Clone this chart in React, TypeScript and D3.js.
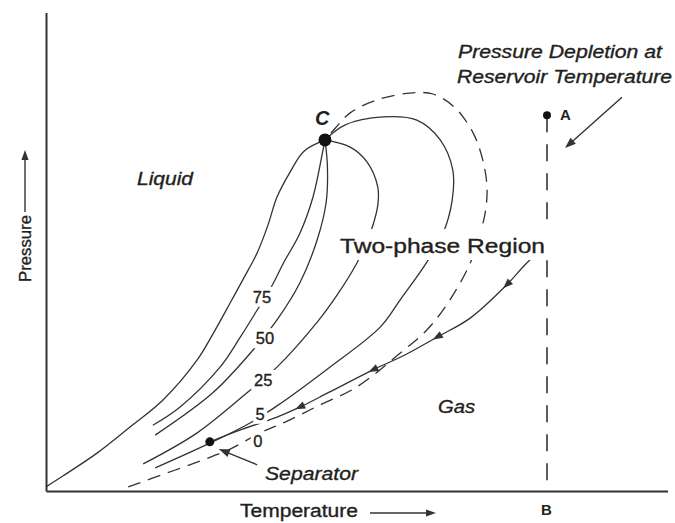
import React from 'react';
import * as d3 from 'd3';

type Pt = [number, number];

// Data space: Temperature 0..100 (relative), Pressure 0..100 (relative)
const criticalPoint: Pt = [46.5, 77.8];

const bubbleLine: Pt[] = [
  [0, 0.7], [2.8, 3.1], [8.5, 8.2], [14, 14], [19.5, 20], [25.2, 28.9], [28, 35.1],
  [30.5, 41.1], [32.8, 46.7], [35.2, 52.7], [37, 58.9], [38.5, 65.1], [40.7, 70.7], [43, 75.3],
];
const quality75: Pt[] = [
  [17.8, 14.4], [22.3, 18.4], [29, 27.3], [32.3, 33.8], [35.2, 40], [37.7, 45.5],
  [39.6, 50.5], [42.3, 57], [44.5, 65.1], [46, 74.4],
];
const quality50: Pt[] = [
  [18.2, 12.2], [27.8, 21.6], [34.5, 31.1], [38.5, 37.8], [42.3, 46], [45.2, 55.6],
  [46.7, 64], [46.9, 72],
];
const quality25: Pt[] = [
  [16.2, 5.8], [25.2, 12.7], [33.5, 21.6], [38.5, 27.3], [45.2, 37.3], [48.5, 43.3],
  [51.8, 50.4], [53.2, 54.4], [54.5, 58.9], [55.3, 63.3], [55.3, 67.3], [53.5, 72.9], [50.7, 76.2],
];
const quality5: Pt[] = [
  [18.2, 4.9], [27.3, 10.4], [34, 14.9], [38.5, 18.7], [47.3, 27.3], [55.7, 36.2], [59, 42.2],
  [63.5, 50.7], [66.2, 57.1], [67.7, 64.4], [67.8, 71.1], [65.7, 77.8], [61.8, 82.2],
  [56.2, 82.9], [49.8, 81.1],
];
const dewLine: Pt[] = [
  [13.7, 0.7], [20.2, 3.8], [26.2, 6.7], [30.7, 9.1], [35.7, 12.7], [40.2, 15.3], [45.2, 18.6],
  [51.8, 22.9], [59, 30.4], [63.5, 35.6], [67.3, 42.2], [70.7, 50.4], [72, 55.6], [73.2, 61.6],
  [73.5, 67.3], [72.8, 73.3], [71.2, 79.3], [68.2, 84.9], [64.5, 88], [60.7, 88.2], [55.2, 86.7],
  [50.7, 83.8], [48.2, 80.4],
];
const depletionPath: Pt[] = [
  [83.7, 54.9], [79.8, 50], [76.8, 45.6], [70.7, 38.2], [65.2, 34], [59.8, 30], [54.5, 26.7],
  [47.3, 21.8], [42.3, 18.4], [38.5, 16.2], [32.3, 13.3], [27.3, 10.7],
];
const depletionArrowIdx = [2, 4, 6, 8];

const separatorPoint: Pt = [27.3, 10.7];
const reservoirT = 83.5;
const pointA: Pt = [83.5, 83.3];

const qualityLabels = [
  { text: '75', T: 36, P: 41.6 },
  { text: '50', T: 36.5, P: 32.4 },
  { text: '25', T: 36.2, P: 23.1 },
  { text: '5', T: 35.7, P: 15.6 },
  { text: '0', T: 35.3, P: 9.6 },
];

const separatorArrow: [Pt, Pt] = [[35.2, 5.6], [28.8, 9.1]];
const depletionNoteArrow: [Pt, Pt] = [[96, 87.3], [86.5, 76]];

const x = d3.scaleLinear().domain([0, 100]).range([46, 646]);
const y = d3.scaleLinear().domain([0, 100]).range([490, 40]);

const INK = '#231f20';
const LINE = '#333';
const FONT = "'Liberation Sans', Arial, Helvetica, sans-serif";
const TS = 0.35; // slight text thickening

const line = d3
  .line<Pt>()
  .x((d) => x(d[0]))
  .y((d) => y(d[1]))
  .curve(d3.curveCatmullRom.alpha(0.5));

function arrowHead(tipX: number, tipY: number, angle: number, len = 10, half = 3.8) {
  const c = Math.cos(angle), s = Math.sin(angle);
  const bx = tipX - len * c, by = tipY - len * s;
  const p1 = [bx - half * s, by + half * c];
  const p2 = [bx + half * s, by - half * c];
  return `M${tipX},${tipY}L${p1[0]},${p1[1]}L${p2[0]},${p2[1]}Z`;
}

function toPx(p: Pt): [number, number] {
  return [x(p[0]), y(p[1])];
}

export default function App() {
  const withC = (arr: Pt[]) => [...arr, criticalPoint];
  const curves = [bubbleLine, quality75, quality50, quality25, quality5].map(withC);

  const trajArrows = depletionArrowIdx.map((i) => {
    const a = toPx(depletionPath[i - 1]);
    const b = toPx(depletionPath[i + 1]);
    const c = toPx(depletionPath[i]);
    const ang = Math.atan2(b[1] - a[1], b[0] - a[0]);
    const tx = c[0] + 5 * Math.cos(ang);
    const ty = c[1] + 5 * Math.sin(ang);
    return arrowHead(tx, ty, ang, 10, 3.8);
  });

  const sepA = toPx(separatorArrow[0]);
  const sepB = toPx(separatorArrow[1]);
  const sepAng = Math.atan2(sepB[1] - sepA[1], sepB[0] - sepA[0]);
  const noteA = toPx(depletionNoteArrow[0]);
  const noteB = toPx(depletionNoteArrow[1]);
  const noteAng = Math.atan2(noteB[1] - noteA[1], noteB[0] - noteA[0]);

  const axisY = y(0) + 1.5;
  const txt = { fill: INK, stroke: INK, strokeWidth: TS } as const;

  return (
    <svg
      width={675}
      height={523}
      style={{ position: 'absolute', left: 0, top: 0, background: '#fff' }}
      fontFamily={FONT}
    >
      <rect width={675} height={523} fill="#fff" />
      {/* axes */}
      <line x1={46.5} y1={13} x2={46.5} y2={axisY} stroke={LINE} strokeWidth={2} />
      <line x1={46.5} y1={axisY} x2={668} y2={axisY} stroke={LINE} strokeWidth={2} />

      {/* solid curves */}
      {curves.map((c, i) => (
        <path key={i} d={line(c) || ''} fill="none" stroke={LINE} strokeWidth={1.3} />
      ))}
      {/* dew point line (dashed) */}
      <path d={line(withC(dewLine)) || ''} fill="none" stroke={LINE} strokeWidth={1.3} strokeDasharray="13,8" />
      {/* depletion path */}
      <path d={line(depletionPath) || ''} fill="none" stroke={LINE} strokeWidth={1.3} />

      {/* reservoir temperature vertical */}
      <line
        x1={x(reservoirT)} y1={y(pointA[1])} x2={x(reservoirT)} y2={axisY}
        stroke={LINE} strokeWidth={1.6} strokeDasharray="17,12"
      />

      {/* label masks */}
      {qualityLabels.map((l) => {
        const w = l.text.length === 2 ? 24 : 14;
        return <rect key={'m' + l.text} x={x(l.T) - w / 2} y={y(l.P) - 16} width={w} height={20} fill="#fff" />;
      })}
      <rect x={337} y={229} width={212} height={31} fill="#fff" />

      {/* quality labels */}
      {qualityLabels.map((l) => (
        <text key={l.text} x={x(l.T)} y={y(l.P)} textAnchor="middle" fontSize={16.5} {...txt}>
          {l.text}
        </text>
      ))}

      {/* arrows on path */}
      {trajArrows.map((d, i) => (
        <path key={'a' + i} d={d} fill={LINE} />
      ))}

      {/* points */}
      <circle cx={x(criticalPoint[0])} cy={y(criticalPoint[1])} r={6.5} fill="#111" />
      <circle cx={x(separatorPoint[0])} cy={y(separatorPoint[1])} r={4.5} fill="#111" />
      <circle cx={x(pointA[0])} cy={y(pointA[1])} r={4} fill="#111" />

      {/* separator pointer */}
      <line x1={sepA[0]} y1={sepA[1]} x2={sepB[0] - 6 * Math.cos(sepAng)} y2={sepB[1] - 6 * Math.sin(sepAng)} stroke={LINE} strokeWidth={1.4} />
      <path d={arrowHead(sepB[0], sepB[1], sepAng, 11, 4)} fill={LINE} />
      {/* depletion note pointer */}
      <line x1={noteA[0]} y1={noteA[1]} x2={noteB[0] - 6 * Math.cos(noteAng)} y2={noteB[1] - 6 * Math.sin(noteAng)} stroke={LINE} strokeWidth={1.4} />
      <path d={arrowHead(noteB[0], noteB[1], noteAng, 11, 4)} fill={LINE} />

      {/* texts */}
      <text x={458} y={58} fontSize={18} fontStyle="italic" {...txt} textLength={204} lengthAdjust="spacingAndGlyphs">
        Pressure Depletion at
      </text>
      <text x={457} y={83} fontSize={18} fontStyle="italic" {...txt} textLength={215} lengthAdjust="spacingAndGlyphs">
        Reservoir Temperature
      </text>
      <text x={560} y={120} fontSize={15} fontWeight="bold" fill={INK}>A</text>
      <text x={315} y={125} fontSize={20} fontWeight="bold" fontStyle="italic" fill={INK}>C</text>
      <text x={137} y={185} fontSize={18} fontStyle="italic" {...txt} textLength={56} lengthAdjust="spacingAndGlyphs">
        Liquid
      </text>
      <text x={340} y={253} fontSize={20} {...txt} textLength={205} lengthAdjust="spacingAndGlyphs">
        Two-phase Region
      </text>
      <text x={438} y={413} fontSize={18} fontStyle="italic" {...txt} textLength={37} lengthAdjust="spacingAndGlyphs">
        Gas
      </text>
      <text x={265} y={480} fontSize={19} fontStyle="italic" {...txt} textLength={93} lengthAdjust="spacingAndGlyphs">
        Separator
      </text>
      <text x={240} y={517} fontSize={18} {...txt} textLength={118} lengthAdjust="spacingAndGlyphs">
        Temperature
      </text>
      <text x={541} y={515} fontSize={15} fontWeight="bold" fill={INK}>B</text>

      {/* axis label arrows */}
      <line x1={370} y1={513} x2={428} y2={513} stroke={LINE} strokeWidth={1.4} />
      <path d={arrowHead(436, 513, 0, 10, 3.6)} fill={LINE} />
      <text
        transform="translate(31,282) rotate(-90)"
        fontSize={17}
        {...txt}
        textLength={67}
        lengthAdjust="spacingAndGlyphs"
      >
        Pressure
      </text>
      <line x1={25} y1={212} x2={25} y2={158} stroke={LINE} strokeWidth={1.4} />
      <path d={arrowHead(25, 150, -Math.PI / 2, 10, 3.6)} fill={LINE} />
    </svg>
  );
}
